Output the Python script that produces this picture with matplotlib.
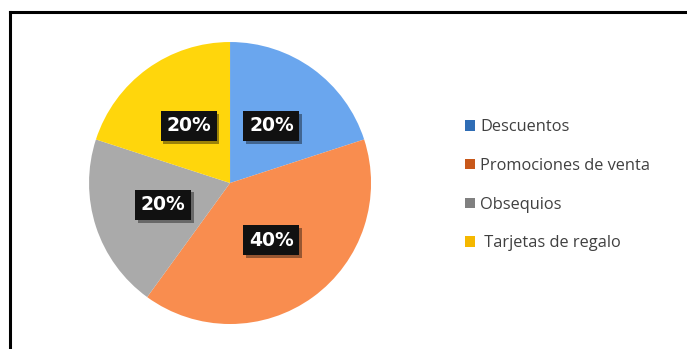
import matplotlib.pyplot as plt
import matplotlib.patheffects as pe
from matplotlib.lines import Line2D
from matplotlib.patches import Rectangle

# Categorías y porcentajes
categorias = ["Descuentos", "Promociones de venta", "Obsequios", " Tarjetas de regalo"]
valores = [20, 40, 20, 20]
colores = ["#6AA6EE", "#F98D4F", "#AAAAAA", "#FFD60C"]
colores_leyenda = ["#2F6DB5", "#C8581A", "#808080", "#F5B800"]

fig = plt.figure(figsize=(6.87, 3.49), dpi=100)

ax = fig.add_axes([0.1296, 0.0716, 0.4105, 0.808])
wedges, textos, pcts = ax.pie(valores, colors=colores, startangle=90, counterclock=False,
                               autopct="%d%%", pctdistance=0.5, radius=1.0,
                               wedgeprops=dict(linewidth=0))
for t in pcts:
    t.set_color("white")
    t.set_fontsize(13.5)
    t.set_fontweight("bold")
    t.set_bbox(dict(facecolor="#111111", edgecolor="none", boxstyle="square,pad=0.3"))
    t.get_bbox_patch().set_path_effects([pe.SimplePatchShadow(offset=(2, -2), alpha=0.4), pe.Normal()])
ax.set_xlim(-1, 1)
ax.set_ylim(-1, 1)
ax.set_aspect("equal")

# Leyenda a la derecha
manejadores = [Rectangle((0, 0), 1, 1, facecolor=c, edgecolor="none") for c in colores_leyenda]
leg = fig.legend(manejadores, categorias, loc="upper left", bbox_to_anchor=(0.655, 0.70),
                 frameon=False, handlelength=0.6, handleheight=0.6,
                 handletextpad=0.35, labelspacing=1.38, labelcolor="#404040",
                 prop={"family": "Open Sans", "size": 11.8})

# Marco negro (superior e izquierdo)
fig.add_artist(Line2D([10 / 687, 1.0], [1 - 12 / 349, 1 - 12 / 349], color="black", lw=2.2,
                      transform=fig.transFigure))
fig.add_artist(Line2D([10 / 687, 10 / 687], [0.0, 1 - 12 / 349], color="black", lw=2.2,
                      transform=fig.transFigure))

fig.savefig("out.png", dpi=100)
